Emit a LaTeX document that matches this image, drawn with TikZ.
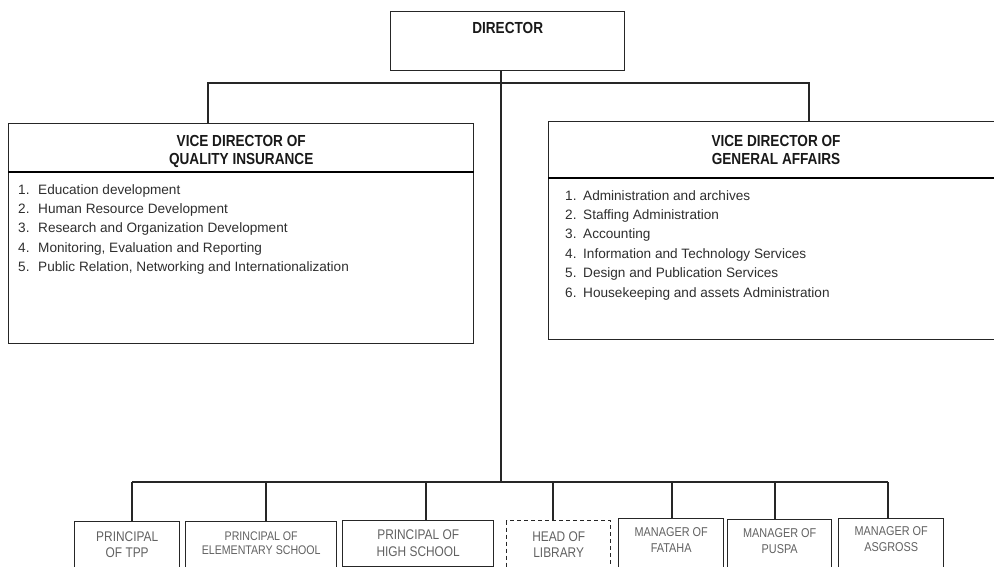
\documentclass[tikz,border=0pt]{standalone}
\usepackage{fontspec}
\setmainfont{Liberation Sans}
\newfontfamily\narrowfont[FakeStretch=0.85]{Liberation Sans}
\usetikzlibrary{positioning}
\begin{document}
\begin{tikzpicture}[x=1pt, y=-1pt,
  box/.style={draw=black!85, line width=1.4pt, inner sep=0pt, anchor=north west},
  link/.style={draw=black!85, line width=1.4pt},
  headtext/.style={inner sep=0pt, align=center, text=black!90,
    font=\narrowfont\bfseries\fontsize{16}{18}\selectfont},
  listtext/.style={inner sep=0pt, align=left, anchor=north west, text=black!82,
    font=\fontsize{13.6}{19.4}\selectfont},
  unittext/.style={inner sep=0pt, align=center, text=black!62,
    font=\narrowfont\fontsize{14}{15.5}\selectfont}]

\useasboundingbox (0,0) rectangle (994,567);
\clip (0,0) rectangle (994,567);

\node[box, minimum width=234pt, minimum height=59pt] (dir) at (390,11) {};
\node[headtext, below=11pt of dir.north] (dirlbl) {DIRECTOR};

\node[box, minimum width=465pt, minimum height=220pt] (qi) at (8,123) {};
\node[headtext, below=12pt of qi.north] (qihead) {VICE DIRECTOR OF\\QUALITY INSURANCE};
\coordinate (qidiv) at (0,172);
\draw[line width=2.4pt] (qi.west |- qidiv) -- (qi.east |- qidiv);
\node[listtext] (qilist) at (18,184) {\makebox[20pt][l]{1.}Education development\\
  \makebox[20pt][l]{2.}Human Resource Development\\
  \makebox[20pt][l]{3.}Research and Organization Development\\
  \makebox[20pt][l]{4.}Monitoring, Evaluation and Reporting\\
  \makebox[20pt][l]{5.}Public Relation, Networking and Internationalization};

\node[box, minimum width=460pt, minimum height=218pt] (ga) at (548,121) {};
\node[headtext, anchor=north] (gahead) at (776,135) {VICE DIRECTOR OF\\GENERAL AFFAIRS};
\coordinate (gadiv) at (0,178);
\draw[line width=2.4pt] (ga.west |- gadiv) -- (ga.east |- gadiv);
\node[listtext] (galist) at (565,190) {\makebox[18pt][l]{1.}Administration and archives\\
  \makebox[18pt][l]{2.}Staffing Administration\\
  \makebox[18pt][l]{3.}Accounting\\
  \makebox[18pt][l]{4.}Information and Technology Services\\
  \makebox[18pt][l]{5.}Design and Publication Services\\
  \makebox[18pt][l]{6.}Housekeeping and assets Administration};

\node[box, minimum width=105pt, minimum height=58pt] (tpp) at (74,521) {};
\node[unittext, below=11pt of tpp.north] (tpplbl) {PRINCIPAL\\OF TPP};
\node[box, minimum width=151pt, minimum height=58pt] (elem) at (185,521) {};
\node[unittext, below=11pt of elem.north, font=\narrowfont\fontsize{12.5}{13.5}\selectfont] (elemlbl) {PRINCIPAL OF\\ELEMENTARY SCHOOL};
\node[box, minimum width=151pt, minimum height=46pt] (high) at (342,520) {};
\node[unittext, below=10pt of high.north, font=\narrowfont\fontsize{14}{17}\selectfont] (highlbl) {PRINCIPAL OF\\HIGH SCHOOL};
\node[box, dash pattern=on 4pt off 3pt, minimum width=104pt, minimum height=58pt] (lib) at (506,520) {};
\node[unittext, below=12pt of lib.north] (liblbl) {HEAD OF\\LIBRARY};
\node[box, minimum width=105pt, minimum height=60pt] (fataha) at (618,518) {};
\node[unittext, below=9pt of fataha.north, font=\narrowfont\fontsize{12.8}{16}\selectfont] (fatahalbl) {MANAGER OF\\FATAHA};
\node[box, minimum width=104pt, minimum height=60pt] (puspa) at (727,519) {};
\node[unittext, below=9pt of puspa.north, font=\narrowfont\fontsize{12.8}{16}\selectfont] (puspalbl) {MANAGER OF\\PUSPA};
\node[box, minimum width=105pt, minimum height=60pt] (asgross) at (838,518) {};
\node[unittext, below=8pt of asgross.north, font=\narrowfont\fontsize{12.8}{16.5}\selectfont] (asgrosslbl) {MANAGER OF\\ASGROSS};

\coordinate (bustop) at (501,83);
\coordinate (busbot) at (501,482);
\coordinate (qidrop) at (208,83);
\coordinate (gadrop) at (809,83);
\draw[link] (dir.south -| bustop) -- (busbot);
\draw[link] (qi.north -| qidrop) -- (qidrop) -- (gadrop) -- (ga.north -| gadrop);

\coordinate (busl) at (132,482);
\coordinate (busr) at (888,482);
\draw[link] (busl) -- (busr);
\foreach \u/\x in {tpp/132, elem/266, high/426, lib/553, fataha/672, puspa/775, asgross/888} {
  \coordinate (d\u) at (\x,482);
  \draw[link] (d\u) -- (d\u |- \u.north);
}
\end{tikzpicture}
\end{document}
